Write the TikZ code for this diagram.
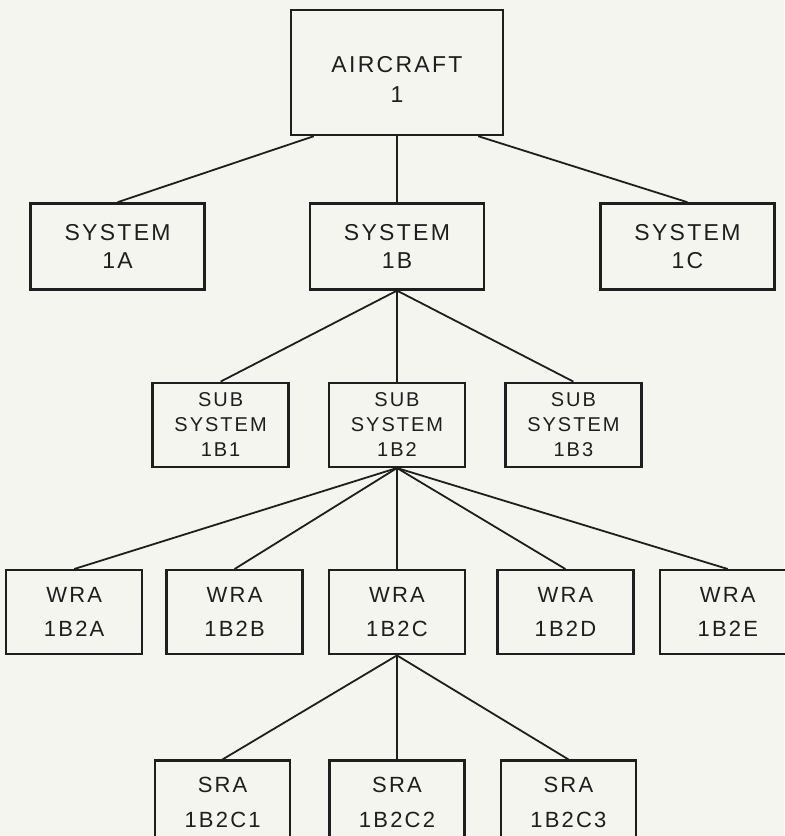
\documentclass[tikz,border=0pt]{standalone}
\usepackage{fontspec}
\newfontfamily\chartfont[LetterSpace=10]{Liberation Sans}
\usepackage{tikz}
\usetikzlibrary{positioning}
\definecolor{paper}{RGB}{245,245,240}
\definecolor{ink}{RGB}{30,30,30}

\begin{document}
\begin{tikzpicture}[node distance=1cm,
    box/.style={draw=ink, line width=1.2pt, align=center, inner sep=0pt, text=ink},
    rootbox/.style={box, minimum width=106pt, minimum height=62.5pt, font=\chartfont\fontsize{11.5}{15}\selectfont},
    sysbox/.style={box, minimum width=87pt, minimum height=43pt, font=\chartfont\fontsize{11.5}{14}\selectfont},
    subbox/.style={box, minimum width=68pt, minimum height=42pt, font=\chartfont\fontsize{10}{12.5}\selectfont},
    wrabox/.style={box, minimum width=68pt, minimum height=42pt, font=\chartfont\fontsize{11}{17}\selectfont},
    srabox/.style={box, minimum width=67.5pt, minimum height=41.5pt, font=\chartfont\fontsize{11}{17.5}\selectfont},
    link/.style={draw=ink, line width=0.9pt}]
      % \draw[fill=paper] (-198.5pt,36.25pt) rectangle (193.5pt,-381.75pt);
      \path[use as bounding box, fill=paper] (-198.5pt,36.25pt) rectangle (193.5pt,-381.75pt);

      \node[rootbox](aircraft) {\mbox{}\\AIRCRAFT\\1};
      \node[sysbox](sysb) [below=33pt of aircraft] {SYSTEM\\1B};
      \node[sysbox](sysa) [left=51.5pt of sysb] {SYSTEM\\1A};
      \node[sysbox](sysc) [right=57pt of sysb] {SYSTEM\\1C};
      \node[subbox](subb2) [below=45.5pt of sysb] {SUB\\SYSTEM\\1B2};
      \node[subbox](subb1) [left=19pt of subb2] {SUB\\SYSTEM\\1B1};
      \node[subbox](subb3) [right=19pt of subb2] {SUB\\SYSTEM\\1B3};
      \node[wrabox](wrac) [below=50.5pt of subb2] {WRA\\1B2C};
      \node[wrabox](wrab) [left=12pt of wrac] {WRA\\1B2B};
      \node[wrabox](wraa) [left=11pt of wrab] {WRA\\1B2A};
      \node[wrabox](wrad) [right=15pt of wrac] {WRA\\1B2D};
      \node[wrabox](wrae) [right=12pt of wrad] {WRA\\1B2E};
      \node[srabox](srac2) [below=52pt of wrac] {SRA\\1B2C2};
      \node[srabox](srac1) [left=18.5pt of srac2] {SRA\\1B2C1};
      \node[srabox](srac3) [right=17pt of srac2] {SRA\\1B2C3};

      \draw[link]([xshift=12pt]aircraft.south west) -- (sysa.north);
      \draw[link](aircraft.south) -- (sysb.north);
      \draw[link]([xshift=-13pt]aircraft.south east) -- (sysc.north);
      \draw[link](sysb.south) -- (subb1.north);
      \draw[link](sysb.south) -- (subb2.north);
      \draw[link](sysb.south) -- (subb3.north);
      \draw[link](subb2.south) -- (wraa.north);
      \draw[link](subb2.south) -- (wrab.north);
      \draw[link](subb2.south) -- (wrac.north);
      \draw[link](subb2.south) -- (wrad.north);
      \draw[link](subb2.south) -- (wrae.north);
      \draw[link](wrac.south) -- (srac1.north);
      \draw[link](wrac.south) -- (srac2.north);
      \draw[link](wrac.south) -- (srac3.north);
    \end{tikzpicture}
\end{document}
